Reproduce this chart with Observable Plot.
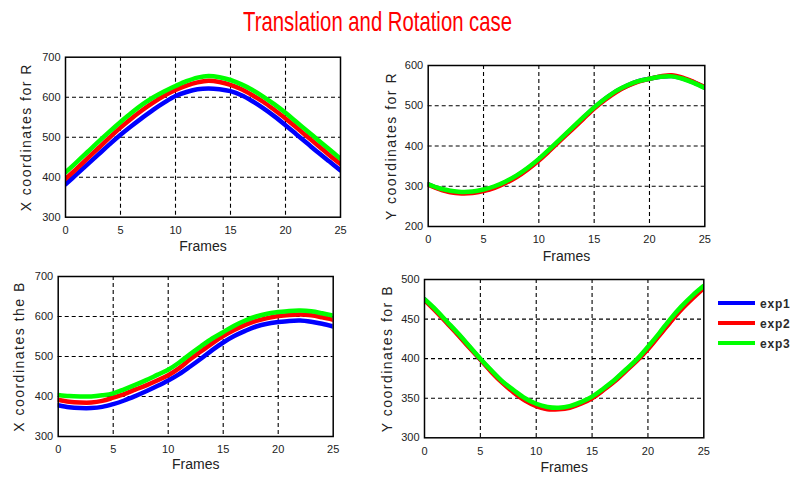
<!DOCTYPE html>
<html>
<head>
<meta charset="utf-8">
<script src="https://cdn.jsdelivr.net/npm/d3@7"></script>
<script src="https://cdn.jsdelivr.net/npm/@observablehq/plot@0.6"></script>
<style>
  body { margin: 0; background: #fff; }
  #fig { position: relative; width: 790px; height: 479px; overflow: hidden;
         font-family: "Liberation Sans", Arial, sans-serif; background: #fff; }
  .panel { position: absolute; }
  #title { position: absolute; top: 8px; left: 243px; color: #ff0000;
           font-family: "Liberation Sans Narrow", "Liberation Sans", Arial, sans-serif;
           font-size: 28px; line-height: 28px; white-space: nowrap; transform-origin: left top; }
  .legend { position: absolute; left: 718px; top: 292px; }
  .legend .row { position: relative; height: 20px; }
  .legend .sw { position: absolute; left: 0; width: 37px; height: 4px; }
  .legend .lab { position: absolute; left: 42px; top: -8px; font-size: 12px; font-weight: bold;
                 letter-spacing: 0.8px; color: #2b2b2b; line-height: 14px; }
</style>
</head>
<body>
<div id="fig">
  <div id="title">Translation and Rotation case</div>
</div>
<script>
// Frame index shared by all four panels
const frames = [0,1,2,3,4,5,6,7,8,9,10,11,12,13,14,15,16,17,18,19,20,21,22,23,24,25];
const frameTicks = [0, 5, 10, 15, 20, 25];

// Series names and colours
const seriesNames = ["exp1", "exp2", "exp3"];
const seriesColors = ["#0000ff", "#ff0000", "#00ff00"];

// X coordinates for R
const xR_exp1 = [382,407,432,457,482,506,528,549,569,587,603,613,620,622,620,615,605,590,572,552,530,507,484,461,439,417];
const xR_exp2 = [396,421,447,473,499,524,547,568,587,604,618,629,637,641,638,631,620,605,588,568,547,524,501,478,455,433];
const xR_exp3 = [412,437,463,489,514,538,561,582,600,615,628,640,649,653,650,643,632,618,601,582,561,538,515,492,469,446];

// Y coordinates for R
const yR_exp1 = [305,294,287,284,285,290,298,310,325,344,366,391,417,443,469,495,517,536,550,561,567,572,574,568,558,545];
const yR_exp2 = [304,293,285,282,283,288,296,308,323,342,364,389,415,441,467,493,515,534,549,560,567,573,576,570,559,546];
const yR_exp3 = [305,295,289,286,287,292,300,312,327,346,368,393,419,445,471,496,518,537,551,561,567,572,573,567,557,544];

// X coordinates for B
const xB_exp1 = [378,373,371,371,374,381,390,401,413,426,440,456,475,495,516,535,551,564,575,582,586,589,590,587,582,575];
const xB_exp2 = [392,387,385,385,389,397,406,417,428,440,453,471,493,513,533,551,566,579,589,596,601,604,605,603,598,592];
const xB_exp3 = [404,401,400,400,403,408,418,429,441,454,467,485,506,526,545,561,577,590,600,607,611,614,615,613,608,602];

// Y coordinates for B
const yB_exp1 = [475,461,446,431,415,399,384,370,358,348,341,337,337,339,344,351,361,372,385,398,413,430,447,464,478,490];
const yB_exp2 = [474,460,445,430,414,399,383,369,357,347,340,336,336,338,343,350,360,371,384,397,412,429,446,462,476,489];
const yB_exp3 = [475,462,447,432,416,400,385,371,360,350,343,339,338,340,345,352,362,373,386,399,415,432,450,466,480,492];

// Axis ranges and tick labels per panel
const xR_ticks = [300, 400, 500, 600, 700];
const yR_ticks = [200, 300, 400, 500, 600];
const xB_ticks = [300, 400, 500, 600, 700];
const yB_ticks = [300, 350, 400, 450, 500];

const fig = document.getElementById("fig");

function panel({left, top, width, height, mL, mR, mT, mB, yTicks, ylabel, ylabDx, xlabDy, series}) {
  const inner = (t) => t.slice(1, -1);
  const gridStyle = {stroke: "#000", strokeOpacity: 1, strokeWidth: 1.1, strokeDasharray: "4,3"};
  const chart = Plot.plot({
    width, height,
    marginLeft: mL, marginRight: mR, marginTop: mT, marginBottom: mB,
    style: {fontFamily: '"Liberation Sans", Arial, sans-serif', background: "transparent", overflow: "visible"},
    x: {domain: [frameTicks[0], frameTicks[frameTicks.length - 1]]},
    y: {domain: [yTicks[0], yTicks[yTicks.length - 1]]},
    marks: [
      Plot.gridX({ticks: inner(frameTicks), ...gridStyle}),
      Plot.gridY({ticks: inner(yTicks), ...gridStyle}),
      ...series.map((vals, i) => Plot.lineY(vals, {
        x: frames, stroke: seriesColors[i], strokeWidth: 4.5, curve: "catmull-rom", clip: true
      })),
      Plot.frame({stroke: "#000", strokeWidth: 1.5}),
      Plot.axisX({ticks: frameTicks, tickSize: 0, tickPadding: 9, fontSize: 11, fill: "#222", label: null}),
      Plot.axisY({ticks: yTicks, tickSize: 0, tickPadding: 5, fontSize: 11, fill: "#222", label: null}),
      Plot.text(["Frames"], {frameAnchor: "bottom", dy: xlabDy, fontSize: 14, fill: "#222"}),
      Plot.text([ylabel], {frameAnchor: "left", textAnchor: "middle", dx: -ylabDx, rotate: -90,
                           fontSize: 14, fill: "#222"})
    ]
  });
  // widen the rotated axis title slightly
  d3.select(chart).selectAll("text")
    .filter(function () { return this.textContent === ylabel; })
    .style("letter-spacing", "1.5px");
  chart.classList.add("panel");
  chart.style.left = left + "px";
  chart.style.top = top + "px";
  fig.appendChild(chart);
}

panel({left: 0, top: 40, width: 360, height: 222, mL: 65, mR: 20, mT: 16.7, mB: 45.3,
       yTicks: xR_ticks, ylabel: "X coordinates for R", ylabDx: 39, xlabDy: 34,
       series: [xR_exp1, xR_exp2, xR_exp3]});
panel({left: 360, top: 45, width: 360, height: 222, mL: 67.7, mR: 15.7, mT: 20, mB: 41,
       yTicks: yR_ticks, ylabel: "Y coordinates for R", ylabDx: 37, xlabDy: 34,
       series: [yR_exp1, yR_exp2, yR_exp3]});
panel({left: 0, top: 262, width: 360, height: 217, mL: 57.7, mR: 27.3, mT: 14, mB: 43,
       yTicks: xB_ticks, ylabel: "X coordinates the B", ylabDx: 39, xlabDy: 32,
       series: [xB_exp1, xB_exp2, xB_exp3]});
panel({left: 360, top: 267, width: 360, height: 212, mL: 64, mR: 16.7, mT: 12, mB: 41.7,
       yTicks: yB_ticks, ylabel: "Y coordinates for B", ylabDx: 37, xlabDy: 34,
       series: [yB_exp1, yB_exp2, yB_exp3]});

// Legend
const legend = document.createElement("div");
legend.className = "legend";
seriesNames.forEach((name, i) => {
  const row = document.createElement("div");
  row.className = "row";
  const sw = document.createElement("div");
  sw.className = "sw";
  sw.style.background = seriesColors[i];
  sw.style.top = "9px";
  const lab = document.createElement("div");
  lab.className = "lab";
  lab.style.top = "5px";
  lab.textContent = name;
  row.appendChild(sw);
  row.appendChild(lab);
  legend.appendChild(row);
});
fig.appendChild(legend);

// Condensed title spanning 269px
const title = document.getElementById("title");
const w = title.getBoundingClientRect().width;
title.style.transform = `scaleX(${269 / w})`;
</script>
</body>
</html>
